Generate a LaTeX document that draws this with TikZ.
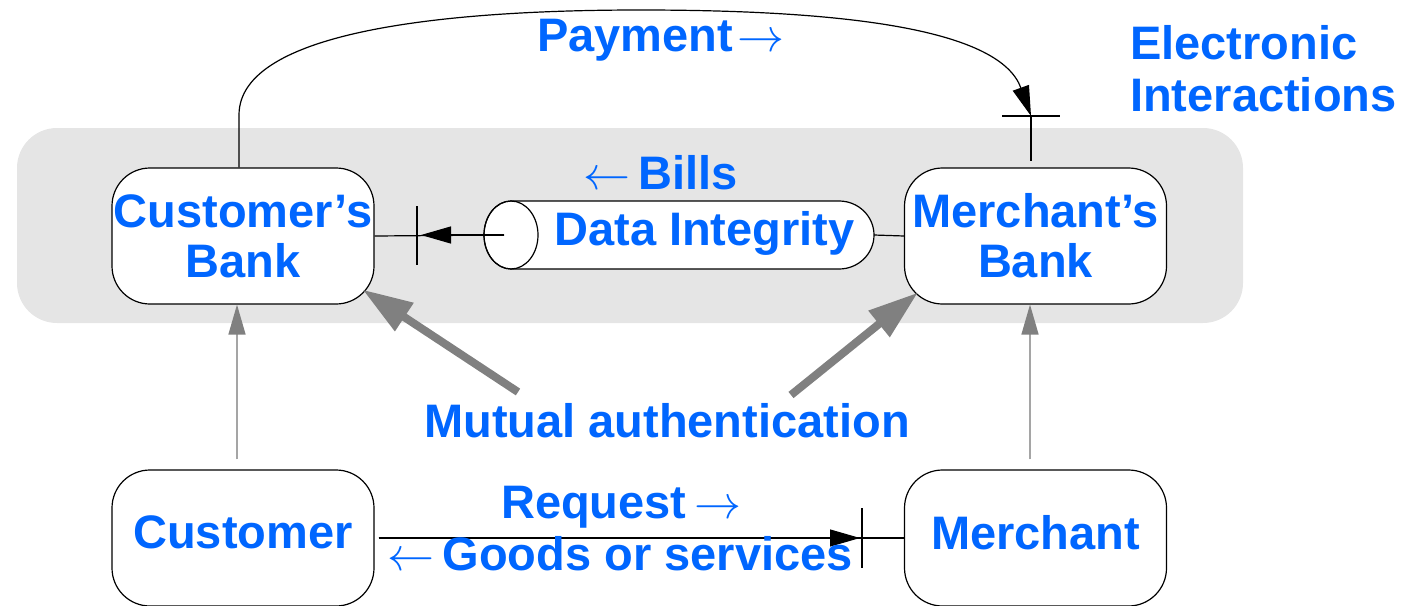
\documentclass[tikz,border=0pt]{standalone}
\usepackage{graphicx}
\usepackage{fontspec}
\setmainfont{Liberation Sans}
\usetikzlibrary{arrows.meta}
\definecolor{txtblue}{RGB}{0,102,255}
\definecolor{bandgray}{RGB}{229,229,229}
\definecolor{authgray}{RGB}{128,128,128}
\definecolor{linkgray}{RGB}{165,165,165}
% thin arrows set beside the labels
\newcommand{\toright}{\scalebox{4.7}{\normalsize$\rightarrow$}}
\newcommand{\toleft}{\scalebox{4.7}{\normalsize$\leftarrow$}}

\begin{document}
\begin{tikzpicture}[x=1pt,y=1pt,
  lbl/.style={text=txtblue, font=\bfseries\fontsize{47}{50}\selectfont, inner sep=0pt},
  party/.style={draw, line width=1.2pt, fill=white, rounded corners=38pt,
    minimum width=262pt, minimum height=136pt, inner sep=0pt, align=center,
    text=txtblue, font=\bfseries\fontsize{47}{50}\selectfont},
  flow/.style={line width=1.2pt},
  tip/.style={-{Triangle[length=30pt,width=17pt]}},
  bar/.style={line width=1.2pt},
  auth/.style={draw=authgray, line width=8pt, -{Triangle[length=50pt,width=32pt,color=authgray]}},
  link/.style={draw=linkgray, line width=1.5pt, -{Triangle[length=30pt,width=17pt,color=authgray]}}
]
\useasboundingbox (0,0) rectangle (1402,-605);

% shaded band behind the two banks
\fill[bandgray, rounded corners=40pt] (17,-128) rectangle (1243,-323);

% parties
\node[party] (cb) at (243,-236) {Customer’s\\Bank};
\node[party] (mb) at (1035.5,-236) {Merchant’s\\Bank};
\node[party, text depth=12pt] (cu) at (243,-538) {Customer};
\node[party, text depth=12pt] (me) at (1035.5,-538) {Merchant};

% data integrity channel (horizontal cylinder)
\filldraw[fill=white, line width=1.2pt] (511,-201) -- (839,-201)
  arc[start angle=90, end angle=-90, x radius=35, y radius=34] -- (511,-269)
  arc[start angle=270, end angle=90, x radius=27, y radius=34] -- cycle;
\draw[line width=1.2pt] (511,-235) ellipse[x radius=27, y radius=34];
\node[lbl, anchor=base] (di) at (704.5,-245) {Data Integrity};
\coordinate (dil) at (504,-235);
\coordinate (dir) at (874,-235);
\coordinate (dtip) at (421,-235);
\coordinate (dbar1) at (417,-206);
\coordinate (dbar2) at (417,-265);

% bills: channel to customer's bank
\draw[flow] (dil) -- (cb.east);
\draw[flow, tip] (dil) -- (dtip);
\draw[bar] (dbar1) -- (dbar2);
\draw[flow] (dir) -- (mb.west);

% payment: customer's bank to merchant's bank
\coordinate (ptip) at (1031,-116);
\coordinate (pend) at (1031,-161);
\coordinate (pbar1) at (1002,-116);
\coordinate (pbar2) at (1060,-116);
\draw[flow, tip] ([xshift=-4pt]cb.north) -- (239,-115)
  .. controls (239,-30) and (450,-10) .. (640,-10)
  .. controls (850,-10) and (1000,-30) .. (ptip);
\draw[bar] (pbar1) -- (pbar2);
\draw[flow] (ptip) -- (pend);

% request / goods between customer and merchant
\coordinate (rtip) at (860,-538);
\coordinate (rbar1) at (862,-508);
\coordinate (rbar2) at (862,-568);
\draw[flow] ([xshift=4pt]cu.east) -- (me.west);
\draw[flow, tip] ([xshift=4pt]cu.east) -- (rtip);
\draw[bar] (rbar1) -- (rbar2);

% customers to their banks
\draw[link] ([xshift=-6pt,yshift=10pt]cu.north) -- ([xshift=-6pt]cb.south);
\draw[link] ([xshift=-5.5pt,yshift=10pt]me.north) -- ([xshift=-5.5pt]mb.south);

% mutual authentication
\node[lbl, anchor=base] (ma) at (667,-437) {Mutual authentication};
\coordinate (at1) at (518,-392);
\coordinate (at2) at (791,-395);
\draw[auth] (at1) -- ([xshift=-12pt,yshift=15pt]cb.south east);
\draw[auth] (at2) -- ([xshift=14pt,yshift=12pt]mb.south west);

% labels
\node[lbl, anchor=base west] (pay) at (537,-51) {Payment\hspace{4pt}\toright};
\node[lbl, anchor=base east] (bil) at (738,-189) {\toleft\hspace{8pt}Bills};
\node[lbl, anchor=base west] (req) at (501,-518) {Request\hspace{8pt}\toright};
\node[lbl, anchor=base east] (gds) at (853,-570) {\toleft\hspace{8pt}Goods or services};
\node[lbl, anchor=base west] (el1) at (1130,-59) {Electronic};
\node[lbl, anchor=base west] (el2) at (1130,-111) {Interactions};
\end{tikzpicture}
\end{document}
